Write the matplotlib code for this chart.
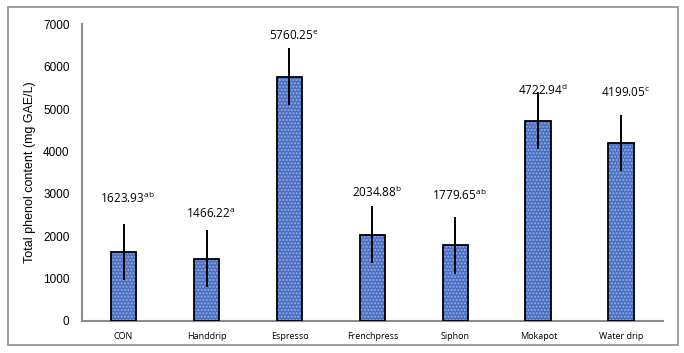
import numpy as np
import matplotlib.pyplot as plt
from matplotlib.patches import Rectangle

# data
methods = ['CON', 'Handdrip', 'Espresso', 'Frenchpress', 'Siphon', 'Mokapot', 'Water drip']
phenol = [1623.93, 1466.22, 5760.25, 2034.88, 1779.65, 4722.94, 4199.05]
errors = [667, 665, 670, 675, 670, 670, 660]
letters = ['ab', 'a', 'e', 'b', 'ab', 'd', 'c']
label_y = [2900, 2520, 6730, 3030, 2970, 5440, 5380]

plt.rcParams['font.family'] = ['Open Sans', 'DejaVu Sans']
plt.rcParams['mathtext.fontset'] = 'custom'
plt.rcParams['mathtext.rm'] = 'Open Sans'

fig = plt.figure(figsize=(6.84, 3.53), dpi=100)
ax = fig.add_axes([0.12, 0.0915, 0.849, 0.8395])

x = np.arange(len(methods))
w = 0.31
# bar fill with light dotted texture, then black outline on top
ax.bar(x, phenol, width=w, color='#4a6ec2', edgecolor='#93abe0', hatch='.....', linewidth=0, zorder=2)
ax.bar(x, phenol, width=w, fill=False, edgecolor='black', linewidth=1.3, zorder=3)
ax.errorbar(x, phenol, yerr=errors, fmt='none', ecolor='black', elinewidth=1.4, capsize=0, zorder=4)

for xi, v, l, ly in zip(x, phenol, letters, label_y):
    ax.text(xi + 0.05, ly, '%.2f$^{\\mathrm{%s}}$' % (v, l), ha='center', va='center', fontsize=8.5)

ax.set_xlim(-0.5, 6.5)
ax.set_ylim(0, 7000)
ax.set_yticks(np.arange(0, 7001, 1000))
ax.set_xticks(x)
ax.set_xticklabels(methods, fontsize=6.5)
ax.tick_params(axis='y', length=0, pad=9, labelsize=8.5, labelfontfamily='Liberation Sans')
ax.tick_params(axis='x', length=0, pad=8)
ax.set_ylabel('Total phenol content (mg GAE/L)', fontsize=9, labelpad=5,
              family=['Liberation Sans', 'DejaVu Sans'])

for s in ['top', 'right']:
    ax.spines[s].set_visible(False)
for s in ['left', 'bottom']:
    ax.spines[s].set_color('#8c8c8c')
    ax.spines[s].set_linewidth(1.5)

# outer frame
fig.patches.append(Rectangle((8 / 684, 8 / 353), 670 / 684, 338 / 353, transform=fig.transFigure,
                             fill=False, edgecolor='#8c8c8c', linewidth=1.2))

plt.savefig('out.png', dpi=100)
